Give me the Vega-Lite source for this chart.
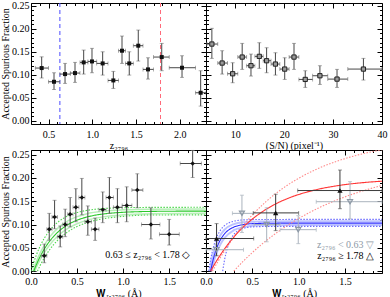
{
  "$schema": "https://vega.github.io/schema/vega-lite/v6.json",
  "padding": {"left": 0, "top": 0, "right": 2, "bottom": 0},
  "background": "white",
  "columns": 2,
  "spacing": {"row": 26, "column": 0},
  "bounds": "flush",
  "resolve": {"scale": {"color": "independent", "strokeDash": "independent"}},
  "config": {
    "view": {"stroke": "black", "strokeWidth": 1},
    "axis": {"grid": false, "domain": false, "tickColor": "black", "tickWidth": 1, "labelFont": "Liberation Serif", "labelFontSize": 10, "labelColor": "black", "titleFont": "Liberation Serif", "titleFontSize": 10, "titleFontWeight": "normal", "titleColor": "black", "labelFlush": false, "labelOverlap": false},
    "axisX": {"titlePadding": -1},
    "axisY": {"labelPadding": 7, "titlePadding": 1},
    "text": {"font": "Liberation Serif"}
  },
  "datasets": {
    "tl": [
      {"x": 0.422, "xlo": 0.35, "xhi": 0.50, "v": 0.1146, "vlo": 0.093, "vhi": 0.139},
      {"x": 0.563, "xlo": 0.50, "xhi": 0.63, "v": 0.0848, "vlo": 0.068, "vhi": 0.1044},
      {"x": 0.689, "xlo": 0.63, "xhi": 0.75, "v": 0.1015, "vlo": 0.0812, "vhi": 0.1247},
      {"x": 0.803, "xlo": 0.75, "xhi": 0.86, "v": 0.1037, "vlo": 0.0834, "vhi": 0.1269},
      {"x": 0.902, "xlo": 0.86, "xhi": 0.95, "v": 0.1269, "vlo": 0.1015, "vhi": 0.1537},
      {"x": 0.997, "xlo": 0.95, "xhi": 1.05, "v": 0.129, "vlo": 0.1044, "vhi": 0.1574},
      {"x": 1.119, "xlo": 1.05, "xhi": 1.18, "v": 0.1247, "vlo": 0.0993, "vhi": 0.150},
      {"x": 1.241, "xlo": 1.18, "xhi": 1.30, "v": 0.0877, "vlo": 0.0703, "vhi": 0.1073},
      {"x": 1.34, "xlo": 1.30, "xhi": 1.38, "v": 0.1523, "vlo": 0.1247, "vhi": 0.1842},
      {"x": 1.423, "xlo": 1.38, "xhi": 1.47, "v": 0.1247, "vlo": 0.0993, "vhi": 0.150},
      {"x": 1.526, "xlo": 1.47, "xhi": 1.58, "v": 0.1632, "vlo": 0.1298, "vhi": 0.1972},
      {"x": 1.637, "xlo": 1.58, "xhi": 1.70, "v": 0.1117, "vlo": 0.0906, "vhi": 0.137},
      {"x": 1.794, "xlo": 1.70, "xhi": 1.88, "v": 0.1385, "vlo": 0.1088, "vhi": 0.1682},
      {"x": 2.026, "xlo": 1.88, "xhi": 2.18, "v": 0.1153, "vlo": 0.0943, "vhi": 0.1414},
      {"x": 2.239, "xlo": 2.18, "xhi": 2.30, "v": 0.0609, "vlo": 0.0319, "vhi": 0.1088}
    ],
    "tr": [
      {"x": 5.2, "xlo": 4.2, "xhi": 6.4, "v": 0.1668, "vlo": 0.1356, "vhi": 0.2009},
      {"x": 7.3, "xlo": 6.4, "xhi": 8.4, "v": 0.1255, "vlo": 0.1015, "vhi": 0.1523},
      {"x": 9.45, "xlo": 8.4, "xhi": 10.5, "v": 0.1022, "vlo": 0.0827, "vhi": 0.1262},
      {"x": 11.4, "xlo": 10.5, "xhi": 12.3, "v": 0.1385, "vlo": 0.1117, "vhi": 0.1682},
      {"x": 13.2, "xlo": 12.3, "xhi": 14.0, "v": 0.1197, "vlo": 0.0972, "vhi": 0.145},
      {"x": 14.9, "xlo": 14.0, "xhi": 15.7, "v": 0.14, "vlo": 0.1139, "vhi": 0.1697},
      {"x": 16.4, "xlo": 15.7, "xhi": 17.3, "v": 0.1305, "vlo": 0.1044, "vhi": 0.1588},
      {"x": 18.2, "xlo": 17.3, "xhi": 19.1, "v": 0.1233, "vlo": 0.0993, "vhi": 0.1479},
      {"x": 20.1, "xlo": 19.1, "xhi": 21.0, "v": 0.1124, "vlo": 0.0899, "vhi": 0.137},
      {"x": 22.0, "xlo": 21.0, "xhi": 23.0, "v": 0.1385, "vlo": 0.1117, "vhi": 0.1682},
      {"x": 24.3, "xlo": 23.0, "xhi": 25.8, "v": 0.0899, "vlo": 0.0725, "vhi": 0.1088},
      {"x": 27.3, "xlo": 25.8, "xhi": 28.9, "v": 0.0979, "vlo": 0.079, "vhi": 0.1197},
      {"x": 30.8, "xlo": 28.9, "xhi": 33.0, "v": 0.0906, "vlo": 0.0725, "vhi": 0.1117},
      {"x": 36.2, "xlo": 33.0, "xhi": 40.0, "v": 0.1124, "vlo": 0.0885, "vhi": 0.1356}
    ],
    "bl": [
      {"x": 0.144, "xlo": 0.115, "xhi": 0.172, "v": 0.033, "vlo": 0.018, "vhi": 0.058},
      {"x": 0.198, "xlo": 0.172, "xhi": 0.228, "v": 0.09, "vlo": 0.066, "vhi": 0.124},
      {"x": 0.256, "xlo": 0.228, "xhi": 0.287, "v": 0.116, "vlo": 0.091, "vhi": 0.152},
      {"x": 0.317, "xlo": 0.287, "xhi": 0.344, "v": 0.074, "vlo": 0.052, "vhi": 0.097},
      {"x": 0.371, "xlo": 0.344, "xhi": 0.398, "v": 0.10, "vlo": 0.074, "vhi": 0.133},
      {"x": 0.425, "xlo": 0.398, "xhi": 0.456, "v": 0.122, "vlo": 0.095, "vhi": 0.158},
      {"x": 0.487, "xlo": 0.456, "xhi": 0.52, "v": 0.137, "vlo": 0.106, "vhi": 0.177},
      {"x": 0.552, "xlo": 0.52, "xhi": 0.585, "v": 0.158, "vlo": 0.121, "vhi": 0.199},
      {"x": 0.617, "xlo": 0.585, "xhi": 0.656, "v": 0.106, "vlo": 0.077, "vhi": 0.14},
      {"x": 0.696, "xlo": 0.656, "xhi": 0.738, "v": 0.09, "vlo": 0.066, "vhi": 0.114},
      {"x": 0.779, "xlo": 0.738, "xhi": 0.815, "v": 0.132, "vlo": 0.104, "vhi": 0.17},
      {"x": 0.851, "xlo": 0.815, "xhi": 0.895, "v": 0.158, "vlo": 0.124, "vhi": 0.201},
      {"x": 0.938, "xlo": 0.895, "xhi": 0.99, "v": 0.137, "vlo": 0.104, "vhi": 0.177},
      {"x": 1.039, "xlo": 0.99, "xhi": 1.095, "v": 0.141, "vlo": 0.106, "vhi": 0.181},
      {"x": 1.154, "xlo": 1.095, "xhi": 1.215, "v": 0.174, "vlo": 0.136, "vhi": 0.209},
      {"x": 1.302, "xlo": 1.20, "xhi": 1.40, "v": 0.10, "vlo": 0.069, "vhi": 0.136},
      {"x": 1.50, "xlo": 1.395, "xhi": 1.61, "v": 0.079, "vlo": 0.056, "vhi": 0.111},
      {"x": 1.755, "xlo": 1.62, "xhi": 1.85, "v": 0.231, "vlo": 0.201, "vhi": 0.259}
    ],
    "brl": [
      {"x": 0.113, "xlo": 0.0, "xhi": 0.405, "v": 0.046, "vlo": 0.034, "vhi": 0.058},
      {"x": 0.388, "xlo": 0.285, "xhi": 0.515, "v": 0.124, "vlo": 0.083, "vhi": 0.163},
      {"x": 0.655, "xlo": 0.52, "xhi": 0.80, "v": 0.10, "vlo": 0.063, "vhi": 0.136},
      {"x": 0.996, "xlo": 0.80, "xhi": 1.19, "v": 0.089, "vlo": 0.059, "vhi": 0.119},
      {"x": 1.555, "xlo": 1.19, "xhi": 1.90, "v": 0.149, "vlo": 0.112, "vhi": 0.192}
    ],
    "brh": [
      {"x": 0.114, "xlo": 0.0, "xhi": 0.515, "v": 0.07, "vlo": 0.033, "vhi": 0.102},
      {"x": 0.752, "xlo": 0.51, "xhi": 1.0, "v": 0.125, "vlo": 0.087, "vhi": 0.165},
      {"x": 1.446, "xlo": 0.99, "xhi": 1.90, "v": 0.173, "vlo": 0.134, "vhi": 0.217}
    ],
    "cuts": [{"x": 0.63, "g": "lo"}, {"x": 1.78, "g": "hi"}],
    "blband": [
      {"W": 0.02, "f": 0, "c": "bu"}, {"W": 0.05, "f": 0.0163, "c": "bu"}, {"W": 0.1, "f": 0.0392, "c": "bu"}, {"W": 0.15, "f": 0.0576, "c": "bu"}, {"W": 0.2, "f": 0.0725, "c": "bu"}, {"W": 0.3, "f": 0.094, "c": "bu"}, {"W": 0.4, "f": 0.1079, "c": "bu"}, {"W": 0.5, "f": 0.1169, "c": "bu"}, {"W": 0.6, "f": 0.1228, "c": "bu"}, {"W": 0.8, "f": 0.129, "c": "bu"}, {"W": 1.0, "f": 0.1316, "c": "bu"}, {"W": 1.3, "f": 0.133, "c": "bu"}, {"W": 1.9, "f": 0.1335, "c": "bu"},
      {"W": 0.04, "f": 0, "c": "bl"}, {"W": 0.07, "f": 0.0131, "c": "bl"}, {"W": 0.1, "f": 0.0248, "c": "bl"}, {"W": 0.15, "f": 0.0416, "c": "bl"}, {"W": 0.2, "f": 0.0557, "c": "bl"}, {"W": 0.3, "f": 0.077, "c": "bl"}, {"W": 0.4, "f": 0.0917, "c": "bl"}, {"W": 0.5, "f": 0.1018, "c": "bl"}, {"W": 0.6, "f": 0.1089, "c": "bl"}, {"W": 0.8, "f": 0.117, "c": "bl"}, {"W": 1.0, "f": 0.1209, "c": "bl"}, {"W": 1.3, "f": 0.1233, "c": "bl"}, {"W": 1.9, "f": 0.1244, "c": "bl"}
    ],
    "blfit": [
      {"W": 0, "f": 0, "c": "up"}, {"W": 0.03, "f": 0.0191, "c": "up"}, {"W": 0.06, "f": 0.0355, "c": "up"}, {"W": 0.1, "f": 0.0539, "c": "up"}, {"W": 0.15, "f": 0.0723, "c": "up"}, {"W": 0.2, "f": 0.0866, "c": "up"}, {"W": 0.25, "f": 0.0977, "c": "up"}, {"W": 0.3, "f": 0.1064, "c": "up"}, {"W": 0.4, "f": 0.1185, "c": "up"}, {"W": 0.5, "f": 0.1258, "c": "up"}, {"W": 0.6, "f": 0.1302, "c": "up"}, {"W": 0.7, "f": 0.1329, "c": "up"}, {"W": 0.8, "f": 0.1345, "c": "up"}, {"W": 1.0, "f": 0.1361, "c": "up"}, {"W": 1.3, "f": 0.1368, "c": "up"}, {"W": 1.9, "f": 0.137, "c": "up"},
      {"W": 0.07, "f": 0, "c": "low"}, {"W": 0.1, "f": 0.0124, "c": "low"}, {"W": 0.15, "f": 0.0303, "c": "low"}, {"W": 0.2, "f": 0.0453, "c": "low"}, {"W": 0.25, "f": 0.0578, "c": "low"}, {"W": 0.3, "f": 0.0683, "c": "low"}, {"W": 0.4, "f": 0.0845, "c": "low"}, {"W": 0.5, "f": 0.0957, "c": "low"}, {"W": 0.6, "f": 0.1036, "c": "low"}, {"W": 0.7, "f": 0.1091, "c": "low"}, {"W": 0.8, "f": 0.113, "c": "low"}, {"W": 1.0, "f": 0.1176, "c": "low"}, {"W": 1.3, "f": 0.1205, "c": "low"}, {"W": 1.9, "f": 0.1208, "c": "low"},
      {"W": 0.03, "f": 0, "c": "fit"}, {"W": 0.05, "f": 0.0099, "c": "fit"}, {"W": 0.08, "f": 0.0234, "c": "fit"}, {"W": 0.12, "f": 0.039, "c": "fit"}, {"W": 0.16, "f": 0.0523, "c": "fit"}, {"W": 0.2, "f": 0.0636, "c": "fit"}, {"W": 0.25, "f": 0.0755, "c": "fit"}, {"W": 0.3, "f": 0.0852, "c": "fit"}, {"W": 0.4, "f": 0.0996, "c": "fit"}, {"W": 0.5, "f": 0.1093, "c": "fit"}, {"W": 0.6, "f": 0.1158, "c": "fit"}, {"W": 0.7, "f": 0.1202, "c": "fit"}, {"W": 0.8, "f": 0.1231, "c": "fit"}, {"W": 1.0, "f": 0.1263, "c": "fit"}, {"W": 1.2, "f": 0.1278, "c": "fit"}, {"W": 1.5, "f": 0.1286, "c": "fit"}, {"W": 1.9, "f": 0.1289, "c": "fit"}
    ],
    "brband": [
      {"W": 0.04, "f": 0, "c": "lbu"}, {"W": 0.07, "f": 0.0303, "c": "lbu"}, {"W": 0.1, "f": 0.0521, "c": "lbu"}, {"W": 0.15, "f": 0.0755, "c": "lbu"}, {"W": 0.2, "f": 0.0889, "c": "lbu"}, {"W": 0.3, "f": 0.101, "c": "lbu"}, {"W": 0.4, "f": 0.105, "c": "lbu"}, {"W": 0.6, "f": 0.1068, "c": "lbu"}, {"W": 1.0, "f": 0.107, "c": "lbu"}, {"W": 1.9, "f": 0.107, "c": "lbu"},
      {"W": 0.06, "f": 0, "c": "lbl"}, {"W": 0.09, "f": 0.0237, "c": "lbl"}, {"W": 0.12, "f": 0.0416, "c": "lbl"}, {"W": 0.16, "f": 0.0591, "c": "lbl"}, {"W": 0.2, "f": 0.0713, "c": "lbl"}, {"W": 0.3, "f": 0.0878, "c": "lbl"}, {"W": 0.4, "f": 0.0945, "c": "lbl"}, {"W": 0.6, "f": 0.0983, "c": "lbl"}, {"W": 1.0, "f": 0.099, "c": "lbl"}, {"W": 1.9, "f": 0.099, "c": "lbl"}
    ],
    "brfit": [
      {"W": 0.03, "f": 0, "c": "bup"}, {"W": 0.05, "f": 0.0246, "c": "bup"}, {"W": 0.08, "f": 0.0516, "c": "bup"}, {"W": 0.11, "f": 0.0702, "c": "bup"}, {"W": 0.15, "f": 0.0862, "c": "bup"}, {"W": 0.2, "f": 0.0977, "c": "bup"}, {"W": 0.25, "f": 0.1039, "c": "bup"}, {"W": 0.3, "f": 0.1072, "c": "bup"}, {"W": 0.4, "f": 0.1099, "c": "bup"}, {"W": 0.6, "f": 0.1109, "c": "bup"}, {"W": 1.0, "f": 0.111, "c": "bup"}, {"W": 1.9, "f": 0.111, "c": "bup"},
      {"W": 0.18, "f": 0, "c": "blow"}, {"W": 0.2, "f": 0.0239, "c": "blow"}, {"W": 0.23, "f": 0.049, "c": "blow"}, {"W": 0.26, "f": 0.0654, "c": "blow"}, {"W": 0.3, "f": 0.0787, "c": "blow"}, {"W": 0.35, "f": 0.0875, "c": "blow"}, {"W": 0.4, "f": 0.0919, "c": "blow"}, {"W": 0.5, "f": 0.095, "c": "blow"}, {"W": 0.7, "f": 0.0959, "c": "blow"}, {"W": 1.0, "f": 0.096, "c": "blow"}, {"W": 1.9, "f": 0.096, "c": "blow"},
      {"W": 0.05, "f": 0, "c": "blue"}, {"W": 0.07, "f": 0.0187, "c": "blue"}, {"W": 0.1, "f": 0.0405, "c": "blue"}, {"W": 0.13, "f": 0.0568, "c": "blue"}, {"W": 0.16, "f": 0.0687, "c": "blue"}, {"W": 0.2, "f": 0.08, "c": "blue"}, {"W": 0.25, "f": 0.0891, "c": "blue"}, {"W": 0.3, "f": 0.0945, "c": "blue"}, {"W": 0.4, "f": 0.0999, "c": "blue"}, {"W": 0.5, "f": 0.1019, "c": "blue"}, {"W": 0.7, "f": 0.1029, "c": "blue"}, {"W": 1.0, "f": 0.103, "c": "blue"}, {"W": 1.9, "f": 0.103, "c": "blue"},
      {"W": 0.07, "f": 0, "c": "rup"}, {"W": 0.15, "f": 0.0276, "c": "rup"}, {"W": 0.25, "f": 0.0584, "c": "rup"}, {"W": 0.35, "f": 0.0856, "c": "rup"}, {"W": 0.5, "f": 0.1205, "c": "rup"}, {"W": 0.65, "f": 0.1496, "c": "rup"}, {"W": 0.8, "f": 0.1736, "c": "rup"}, {"W": 1.0, "f": 0.1993, "c": "rup"}, {"W": 1.2, "f": 0.2194, "c": "rup"}, {"W": 1.4, "f": 0.235, "c": "rup"}, {"W": 1.6, "f": 0.2472, "c": "rup"}, {"W": 1.8, "f": 0.2567, "c": "rup"}, {"W": 1.9, "f": 0.2606, "c": "rup"},
      {"W": 0.3, "f": 0, "c": "rlow"}, {"W": 0.4, "f": 0.0209, "c": "rlow"}, {"W": 0.5, "f": 0.0399, "c": "rlow"}, {"W": 0.6, "f": 0.0573, "c": "rlow"}, {"W": 0.8, "f": 0.0876, "c": "rlow"}, {"W": 1.0, "f": 0.113, "c": "rlow"}, {"W": 1.2, "f": 0.1341, "c": "rlow"}, {"W": 1.4, "f": 0.1517, "c": "rlow"}, {"W": 1.6, "f": 0.1664, "c": "rlow"}, {"W": 1.9, "f": 0.184, "c": "rlow"},
      {"W": 0.05, "f": 0, "c": "red"}, {"W": 0.1, "f": 0.0174, "c": "red"}, {"W": 0.2, "f": 0.0477, "c": "red"}, {"W": 0.3, "f": 0.073, "c": "red"}, {"W": 0.4, "f": 0.0942, "c": "red"}, {"W": 0.5, "f": 0.1118, "c": "red"}, {"W": 0.6, "f": 0.1264, "c": "red"}, {"W": 0.75, "f": 0.144, "c": "red"}, {"W": 0.9, "f": 0.1574, "c": "red"}, {"W": 1.05, "f": 0.1675, "c": "red"}, {"W": 1.2, "f": 0.1753, "c": "red"}, {"W": 1.4, "f": 0.1828, "c": "red"}, {"W": 1.6, "f": 0.1881, "c": "red"}, {"W": 1.75, "f": 0.1909, "c": "red"}, {"W": 1.9, "f": 0.1931, "c": "red"}
    ]
  },
  "concat": [
    {
      "width": 175, "height": 121,
      "resolve": {"axis": {"x": "independent", "y": "independent"}},
      "layer": [
        {"data": {"name": "cuts"}, "mark": {"type": "rule", "strokeDash": [4, 3], "strokeWidth": 1},
         "encoding": {
           "x": {"field": "x", "type": "quantitative", "axis": null, "scale": {"domain": [0.3, 2.3], "nice": false, "zero": false}},
           "color": {"field": "g", "type": "nominal", "scale": {"domain": ["lo", "hi"], "range": ["#4a4aff", "#ff6a7a"]}, "legend": null}}},
        {"data": {"name": "tl"}, "mark": {"type": "errorbar", "color": "#474747", "ticks": {"size": 4, "color": "#8c8c8c"}},
         "encoding": {
           "x": {"field": "xlo", "type": "quantitative", "axis": {"orient": "bottom", "title": "z₂₇₉₆", "labelPadding": 10, "values": [0.3,0.4,0.5,0.6,0.7,0.8,0.9,1,1.1,1.2,1.3,1.4,1.5,1.6,1.7,1.8,1.9,2,2.1,2.2,2.3], "labelExpr": "abs(datum.value*2-round(datum.value*2))<0.001 ? format(datum.value,'.1f') : ''", "tickSize": {"condition": {"test": "abs(datum.value*2-round(datum.value*2))<0.001", "value": -5}, "value": -2.5}}},
           "x2": {"field": "xhi"},
           "y": {"field": "v", "type": "quantitative", "scale": {"domain": [-0.007, 0.256], "nice": false, "zero": false}, "axis": {"orient": "left", "title": "Accepted Spurious Fraction", "values": [0,0.01,0.02,0.03,0.04,0.05,0.06,0.07,0.08,0.09,0.1,0.11,0.12,0.13,0.14,0.15,0.16,0.17,0.18,0.19,0.2,0.21,0.22,0.23,0.24,0.25], "labelExpr": "abs(datum.value*20-round(datum.value*20))<0.001 ? format(datum.value,'.2f') : ''", "tickSize": {"condition": {"test": "abs(datum.value*20-round(datum.value*20))<0.001", "value": -5}, "value": -2.5}}}}},
        {"data": {"name": "tl"}, "mark": {"type": "errorbar", "color": "#474747", "ticks": {"size": 4, "color": "#8c8c8c"}},
         "encoding": {
           "x": {"field": "x", "type": "quantitative", "axis": {"orient": "top", "title": null, "labels": false, "values": [0.3,0.4,0.5,0.6,0.7,0.8,0.9,1,1.1,1.2,1.3,1.4,1.5,1.6,1.7,1.8,1.9,2,2.1,2.2,2.3], "tickSize": {"condition": {"test": "abs(datum.value*2-round(datum.value*2))<0.001", "value": -5}, "value": -2.5}}},
           "y": {"field": "vlo", "type": "quantitative", "axis": {"orient": "right", "title": null, "labels": false, "values": [0,0.01,0.02,0.03,0.04,0.05,0.06,0.07,0.08,0.09,0.1,0.11,0.12,0.13,0.14,0.15,0.16,0.17,0.18,0.19,0.2,0.21,0.22,0.23,0.24,0.25], "tickSize": {"condition": {"test": "abs(datum.value*20-round(datum.value*20))<0.001", "value": -5}, "value": -2.5}}},
           "y2": {"field": "vhi"}}},
        {"data": {"name": "tl"}, "mark": {"type": "point", "shape": "square", "filled": true, "size": 16, "color": "#111111", "opacity": 1},
         "encoding": {"x": {"field": "x", "type": "quantitative", "axis": null}, "y": {"field": "v", "type": "quantitative", "axis": null}}}
      ]
    },
    {
      "width": 176, "height": 121,
      "resolve": {"axis": {"x": "independent", "y": "independent"}},
      "layer": [
        {"data": {"name": "tr"}, "mark": {"type": "errorbar", "color": "#474747", "ticks": {"size": 4, "color": "#8c8c8c"}},
         "encoding": {
           "x": {"field": "xlo", "type": "quantitative", "scale": {"domain": [4, 40], "nice": false, "zero": false}, "axis": {"orient": "bottom", "title": "(S/N) (pixel⁻¹)", "labelPadding": 10, "values": [4,6,8,10,12,14,16,18,20,22,24,26,28,30,32,34,36,38,40], "labelExpr": "datum.value%10==0 ? format(datum.value,'d') : ''", "tickSize": {"condition": {"test": "datum.value%10==0", "value": -5}, "value": -2.5}}},
           "x2": {"field": "xhi"},
           "y": {"field": "v", "type": "quantitative", "scale": {"domain": [-0.007, 0.256], "nice": false, "zero": false}, "axis": {"orient": "left", "title": null, "labels": false, "values": [0,0.01,0.02,0.03,0.04,0.05,0.06,0.07,0.08,0.09,0.1,0.11,0.12,0.13,0.14,0.15,0.16,0.17,0.18,0.19,0.2,0.21,0.22,0.23,0.24,0.25], "tickSize": {"condition": {"test": "abs(datum.value*20-round(datum.value*20))<0.001", "value": -5}, "value": -2.5}}}}},
        {"data": {"name": "tr"}, "mark": {"type": "errorbar", "color": "#474747", "ticks": {"size": 4, "color": "#8c8c8c"}},
         "encoding": {
           "x": {"field": "x", "type": "quantitative", "axis": {"orient": "top", "title": null, "labels": false, "values": [4,6,8,10,12,14,16,18,20,22,24,26,28,30,32,34,36,38,40], "tickSize": {"condition": {"test": "datum.value%10==0", "value": -5}, "value": -2.5}}},
           "y": {"field": "vlo", "type": "quantitative", "axis": {"orient": "right", "title": null, "labels": false, "values": [0,0.01,0.02,0.03,0.04,0.05,0.06,0.07,0.08,0.09,0.1,0.11,0.12,0.13,0.14,0.15,0.16,0.17,0.18,0.19,0.2,0.21,0.22,0.23,0.24,0.25], "tickSize": {"condition": {"test": "abs(datum.value*20-round(datum.value*20))<0.001", "value": -5}, "value": -2.5}}},
           "y2": {"field": "vhi"}}},
        {"data": {"name": "tr"}, "mark": {"type": "point", "shape": "square", "filled": true, "size": 18, "fill": "#9a9a9a", "stroke": "#222222", "strokeWidth": 1, "opacity": 1},
         "encoding": {"x": {"field": "x", "type": "quantitative", "axis": null}, "y": {"field": "v", "type": "quantitative", "axis": null}}}
      ]
    },
    {
      "width": 175, "height": 123,
      "resolve": {"axis": {"x": "independent", "y": "independent"}},
      "layer": [
        {"data": {"name": "blband"}, "mark": {"type": "line", "clip": true, "interpolate": "monotone", "strokeWidth": 1.5, "color": "#b8efb8"},
         "encoding": {
           "x": {"field": "W", "type": "quantitative", "axis": null, "scale": {"domain": [0, 1.9], "nice": false, "zero": false}},
           "y": {"field": "f", "type": "quantitative", "axis": null, "scale": {"domain": [-0.004, 0.26], "nice": false, "zero": false}},
           "detail": {"field": "c"}}},
        {"data": {"name": "blfit"}, "mark": {"type": "line", "clip": true, "interpolate": "monotone", "strokeWidth": 1.1},
         "encoding": {
           "x": {"field": "W", "type": "quantitative", "axis": null},
           "y": {"field": "f", "type": "quantitative", "axis": null},
           "color": {"field": "c", "type": "nominal", "scale": {"domain": ["up", "low", "fit"], "range": ["#4fd84f", "#4fd84f", "#2bc92b"]}, "legend": null},
           "strokeDash": {"field": "c", "type": "nominal", "scale": {"domain": ["up", "low", "fit"], "range": [[1.5, 1.5], [1.5, 1.5], [1, 0]]}, "legend": null}}},
        {"data": {"name": "bl"}, "mark": {"type": "errorbar", "color": "#474747", "ticks": {"size": 4, "color": "#8c8c8c"}},
         "encoding": {
           "x": {"field": "xlo", "type": "quantitative", "axis": {"orient": "bottom", "title": "𝐖ᵣ,₂₇₉₆ (Å)", "labelPadding": 8.5, "values": [0,0.1,0.2,0.3,0.4,0.5,0.6,0.7,0.8,0.9,1,1.1,1.2,1.3,1.4,1.5,1.6,1.7,1.8,1.9], "labelExpr": "abs(datum.value*2-round(datum.value*2))<0.001 ? format(datum.value,'.1f') : ''", "tickSize": {"condition": {"test": "abs(datum.value*2-round(datum.value*2))<0.001", "value": -5}, "value": -2.5}}},
           "x2": {"field": "xhi"},
           "y": {"field": "v", "type": "quantitative", "axis": {"orient": "left", "title": "Accepted Spurious Fraction", "values": [0,0.01,0.02,0.03,0.04,0.05,0.06,0.07,0.08,0.09,0.1,0.11,0.12,0.13,0.14,0.15,0.16,0.17,0.18,0.19,0.2,0.21,0.22,0.23,0.24,0.25], "labelExpr": "abs(datum.value*20-round(datum.value*20))<0.001 ? format(datum.value,'.2f') : ''", "tickSize": {"condition": {"test": "abs(datum.value*20-round(datum.value*20))<0.001", "value": -5}, "value": -2.5}}}}},
        {"data": {"name": "bl"}, "mark": {"type": "errorbar", "color": "#474747", "ticks": {"size": 4, "color": "#8c8c8c"}},
         "encoding": {
           "x": {"field": "x", "type": "quantitative", "axis": {"orient": "top", "title": null, "labels": false, "values": [0,0.1,0.2,0.3,0.4,0.5,0.6,0.7,0.8,0.9,1,1.1,1.2,1.3,1.4,1.5,1.6,1.7,1.8,1.9], "tickSize": {"condition": {"test": "abs(datum.value*2-round(datum.value*2))<0.001", "value": -5}, "value": -2.5}}},
           "y": {"field": "vlo", "type": "quantitative", "axis": {"orient": "right", "title": null, "labels": false, "values": [0,0.01,0.02,0.03,0.04,0.05,0.06,0.07,0.08,0.09,0.1,0.11,0.12,0.13,0.14,0.15,0.16,0.17,0.18,0.19,0.2,0.21,0.22,0.23,0.24,0.25], "tickSize": {"condition": {"test": "abs(datum.value*20-round(datum.value*20))<0.001", "value": -5}, "value": -2.5}}},
           "y2": {"field": "vhi"}}},
        {"data": {"name": "bl"}, "mark": {"type": "point", "shape": "diamond", "filled": true, "size": 20, "color": "#111111", "opacity": 1},
         "encoding": {"x": {"field": "x", "type": "quantitative", "axis": null}, "y": {"field": "v", "type": "quantitative", "axis": null}}},
        {"data": {"values": [{}]}, "mark": {"type": "text", "align": "right", "baseline": "middle", "fontSize": 10, "color": "black"},
         "encoding": {"x": {"datum": 1.73, "axis": null}, "y": {"datum": 0.034, "axis": null}, "text": {"value": "0.63 ≤ z₂₇₉₆ < 1.78 ◇"}}}
      ]
    },
    {
      "width": 176, "height": 123,
      "resolve": {"axis": {"x": "independent", "y": "independent"}},
      "layer": [
        {"data": {"name": "brband"}, "mark": {"type": "line", "clip": true, "interpolate": "monotone", "strokeWidth": 2, "color": "#bcc2ff"},
         "encoding": {
           "x": {"field": "W", "type": "quantitative", "axis": null, "scale": {"domain": [0, 1.9], "nice": false, "zero": false}},
           "y": {"field": "f", "type": "quantitative", "axis": null, "scale": {"domain": [-0.004, 0.26], "nice": false, "zero": false}},
           "detail": {"field": "c"}}},
        {"data": {"name": "brfit"}, "mark": {"type": "line", "clip": true, "interpolate": "monotone", "strokeWidth": 1.1},
         "encoding": {
           "x": {"field": "W", "type": "quantitative", "axis": null},
           "y": {"field": "f", "type": "quantitative", "axis": null},
           "color": {"field": "c", "type": "nominal", "scale": {"domain": ["bup", "blow", "blue", "rup", "rlow", "red"], "range": ["#6b6bff", "#6b6bff", "#2a2aff", "#ff8a8a", "#ff8a8a", "#ff3535"]}, "legend": null},
           "strokeDash": {"field": "c", "type": "nominal", "scale": {"domain": ["bup", "blow", "blue", "rup", "rlow", "red"], "range": [[1.5, 1.5], [1.5, 1.5], [1, 0], [1.5, 1.5], [1.5, 1.5], [1, 0]]}, "legend": null}}},
        {"data": {"name": "brl"}, "mark": {"type": "errorbar", "color": "#aab3bd", "ticks": {"size": 4, "color": "#aab3bd"}},
         "encoding": {
           "x": {"field": "xlo", "type": "quantitative", "axis": null},
           "x2": {"field": "xhi"},
           "y": {"field": "v", "type": "quantitative", "axis": null}}},
        {"data": {"name": "brl"}, "mark": {"type": "errorbar", "color": "#aab3bd", "ticks": {"size": 4, "color": "#aab3bd"}},
         "encoding": {
           "x": {"field": "x", "type": "quantitative", "axis": null},
           "y": {"field": "vlo", "type": "quantitative", "axis": null},
           "y2": {"field": "vhi"}}},
        {"data": {"name": "brh"}, "mark": {"type": "errorbar", "color": "#3a3a3a", "ticks": {"size": 4, "color": "#6a6a6a"}},
         "encoding": {
           "x": {"field": "xlo", "type": "quantitative", "axis": {"orient": "bottom", "title": "𝐖ᵣ,₂₇₉₆ (Å)", "labelPadding": 8.5, "values": [0,0.1,0.2,0.3,0.4,0.5,0.6,0.7,0.8,0.9,1,1.1,1.2,1.3,1.4,1.5,1.6,1.7,1.8,1.9], "labelExpr": "abs(datum.value*2-round(datum.value*2))<0.001 ? format(datum.value,'.1f') : ''", "tickSize": {"condition": {"test": "abs(datum.value*2-round(datum.value*2))<0.001", "value": -5}, "value": -2.5}}},
           "x2": {"field": "xhi"},
           "y": {"field": "v", "type": "quantitative", "axis": {"orient": "left", "title": null, "labels": false, "values": [0,0.01,0.02,0.03,0.04,0.05,0.06,0.07,0.08,0.09,0.1,0.11,0.12,0.13,0.14,0.15,0.16,0.17,0.18,0.19,0.2,0.21,0.22,0.23,0.24,0.25], "tickSize": {"condition": {"test": "abs(datum.value*20-round(datum.value*20))<0.001", "value": -5}, "value": -2.5}}}}},
        {"data": {"name": "brh"}, "mark": {"type": "errorbar", "color": "#3a3a3a", "ticks": {"size": 4, "color": "#6a6a6a"}},
         "encoding": {
           "x": {"field": "x", "type": "quantitative", "axis": {"orient": "top", "title": null, "labels": false, "values": [0,0.1,0.2,0.3,0.4,0.5,0.6,0.7,0.8,0.9,1,1.1,1.2,1.3,1.4,1.5,1.6,1.7,1.8,1.9], "tickSize": {"condition": {"test": "abs(datum.value*2-round(datum.value*2))<0.001", "value": -5}, "value": -2.5}}},
           "y": {"field": "vlo", "type": "quantitative", "axis": {"orient": "right", "title": null, "labels": false, "values": [0,0.01,0.02,0.03,0.04,0.05,0.06,0.07,0.08,0.09,0.1,0.11,0.12,0.13,0.14,0.15,0.16,0.17,0.18,0.19,0.2,0.21,0.22,0.23,0.24,0.25], "tickSize": {"condition": {"test": "abs(datum.value*20-round(datum.value*20))<0.001", "value": -5}, "value": -2.5}}},
           "y2": {"field": "vhi"}}},
        {"data": {"name": "brl"}, "mark": {"type": "point", "shape": "triangle-down", "filled": false, "size": 26, "color": "#8d99a6", "strokeWidth": 1.2, "opacity": 1},
         "encoding": {"x": {"field": "x", "type": "quantitative", "axis": null}, "y": {"field": "v", "type": "quantitative", "axis": null}}},
        {"data": {"name": "brh"}, "mark": {"type": "point", "shape": "triangle-up", "filled": true, "size": 28, "color": "#111111", "opacity": 1},
         "encoding": {"x": {"field": "x", "type": "quantitative", "axis": null}, "y": {"field": "v", "type": "quantitative", "axis": null}}},
        {"data": {"values": [{}]}, "mark": {"type": "text", "align": "right", "baseline": "middle", "fontSize": 10, "color": "#8d99a6"},
         "encoding": {"x": {"datum": 1.815, "axis": null}, "y": {"datum": 0.056, "axis": null}, "text": {"value": "z₂₇₉₆ < 0.63 ▽"}}},
        {"data": {"values": [{}]}, "mark": {"type": "text", "align": "right", "baseline": "middle", "fontSize": 10, "color": "black"},
         "encoding": {"x": {"datum": 1.815, "axis": null}, "y": {"datum": 0.032, "axis": null}, "text": {"value": "z₂₇₉₆ ≥ 1.78 △"}}}
      ]
    }
  ]
}
